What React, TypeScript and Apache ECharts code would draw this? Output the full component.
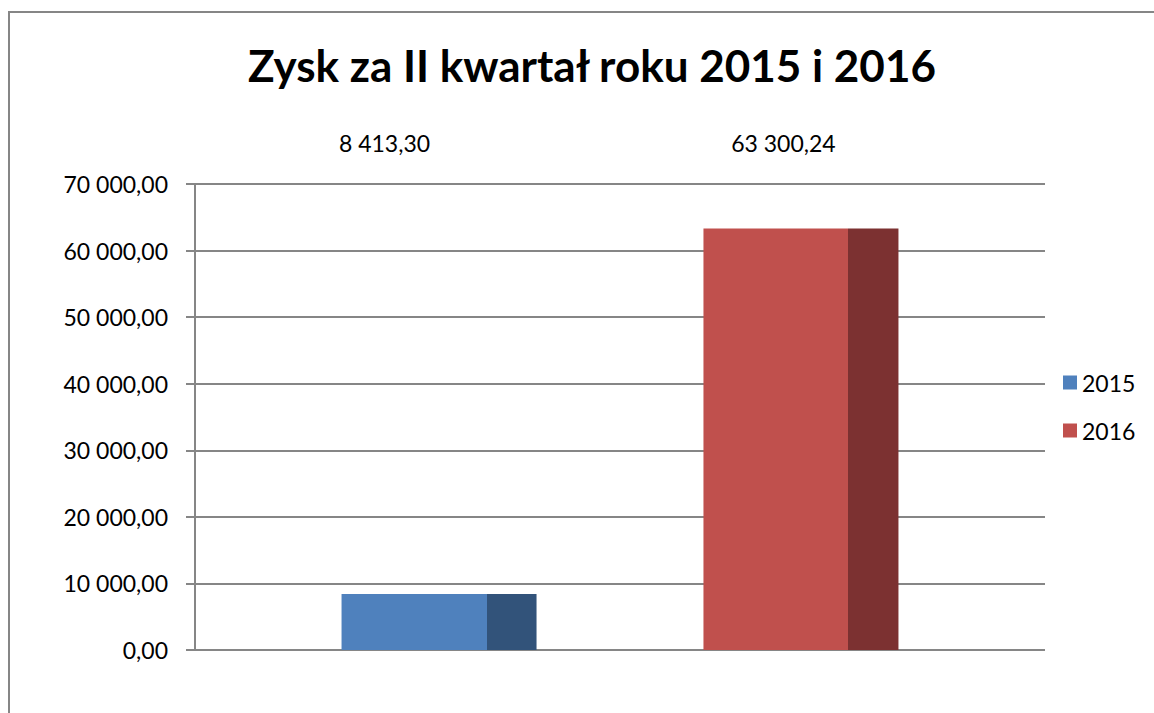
import React, { useEffect, useRef } from "react";
import * as echarts from "echarts";

const TITLE = "Zysk za II kwartał roku 2015 i 2016";
const SERIES_NAMES = ["2015", "2016"];
const SERIES_VALUES = [8413.3, 63300.24];
const FRONT_COLORS = ["#4F81BD", "#C0504D"];
const SIDE_COLORS = ["#32537A", "#7C3131"];
const Y_MIN = 0;
const Y_MAX = 70000;
const Y_INTERVAL = 10000;

const FONT = "Lato";

function fmt(v: number): string {
  const fixed = v.toFixed(2);
  const [intPart, dec] = fixed.split(".");
  const withSpaces = intPart.replace(/\B(?=(\d{3})+(?!\d))/g, " ");
  return withSpaces + "," + dec;
}

export default function App() {
  const ref = useRef<HTMLDivElement>(null);
  useEffect(() => {
    document.body.style.margin = "0";
    if (!ref.current) return;
    const chart = echarts.init(ref.current, undefined, { renderer: "svg" });
    const barWidth = 195;
    const frontRatio = 145 / 195;
    const labelCenterY = 143;
    const labelDx = [43, 80];

    const buildSeries = (labelDys: number[]) =>
      SERIES_NAMES.map((name, i) => ({
        name,
        type: "bar",
        barWidth,
        barGap: "85.6%",
        data: [SERIES_VALUES[i]],
        itemStyle: {
          color: new echarts.graphic.LinearGradient(0, 0, 1, 0, [
            { offset: 0, color: FRONT_COLORS[i] },
            { offset: frontRatio, color: FRONT_COLORS[i] },
            { offset: frontRatio, color: SIDE_COLORS[i] },
            { offset: 1, color: SIDE_COLORS[i] },
          ]),
        },
        label: {
          show: true,
          position: [labelDx[i], labelDys[i]],
          align: "center",
          verticalAlign: "middle",
          formatter: (p: any) => fmt(p.value),
          fontFamily: FONT,
          fontSize: 23,
          color: "#000",
        },
      }));

    const option: any = {
      animation: false,
      backgroundColor: "#fff",
      title: {
        text: TITLE,
        left: 243,
        top: 38,
        textStyle: {
          fontFamily: FONT,
          fontWeight: "bold",
          fontSize: 44,
          color: "#000",
        },
      },
      graphic: [
        {
          type: "rect",
          shape: { x: 9, y: 12, width: 1300, height: 900 },
          style: { fill: "none", stroke: "#868686", lineWidth: 2 },
          silent: true,
          z: -1,
        },
      ],
      legend: {
        orient: "vertical",
        left: 1058,
        top: 366,
        itemWidth: 14,
        itemHeight: 14,
        itemGap: 25,
        icon: "rect",
        textStyle: { fontFamily: FONT, fontSize: 23, color: "#000" },
        data: SERIES_NAMES.map((n, i) => ({
          name: n,
          itemStyle: { color: FRONT_COLORS[i] },
        })),
      },
      grid: { left: 195, right: 109, top: 184, bottom: 63, containLabel: false },
      xAxis: {
        type: "category",
        data: [""],
        axisLine: { show: false },
        axisTick: { show: false },
        axisLabel: { show: false },
      },
      yAxis: {
        type: "value",
        min: Y_MIN,
        max: Y_MAX,
        interval: Y_INTERVAL,
        axisLine: { show: true, lineStyle: { color: "#868686", width: 2 } },
        axisTick: { show: true, length: 9, lineStyle: { color: "#868686", width: 2 } },
        axisLabel: {
          formatter: (v: number) => fmt(v),
          fontFamily: FONT,
          fontSize: 23,
          color: "#000",
          margin: 27,
        },
        splitLine: { show: true, lineStyle: { color: "#868686", width: 2 } },
      },
      series: buildSeries([0, 0]),
    };
    chart.setOption(option);
    const dys = SERIES_VALUES.map((v) => {
      const top = chart.convertToPixel({ yAxisIndex: 0 }, v) as number;
      return labelCenterY - top;
    });
    chart.setOption({ series: buildSeries(dys) });
    return () => chart.dispose();
  }, []);
  return <div ref={ref} style={{ width: 1154, height: 713 }} />;
}
